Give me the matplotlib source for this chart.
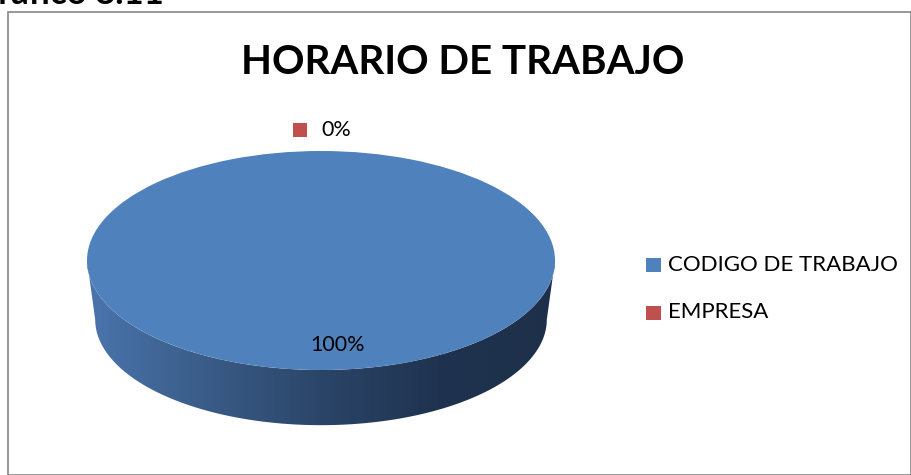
import numpy as np
import matplotlib
matplotlib.use("Agg")
import matplotlib.pyplot as plt
from matplotlib.patches import Rectangle, PathPatch
from matplotlib.path import Path
from matplotlib.colors import LinearSegmentedColormap

# Datos del gráfico
categorias = ["CODIGO DE TRABAJO", "EMPRESA"]
valores = [100, 0]
colores = ["#4F81BD", "#C0504D"]
titulo = "HORARIO DE TRABAJO"
encabezado = "Gráfico 8.11"

W, H = 911, 475
fig = plt.figure(figsize=(W / 100, H / 100), dpi=100)
fig.patch.set_facecolor("white")

# marco del gráfico
fig.patches.append(Rectangle((8 / W, 0), 1 - 8 / W, 1 - 12 / H, transform=fig.transFigure,
                             fill=False, edgecolor="#868686", linewidth=1.2))

# texto cortado arriba a la izquierda
fig.text(-27 / W, 1 - 4 / H, encabezado, fontsize=25, fontweight="bold",
         family="Lato", ha="left", va="baseline")

fig.text(463 / W, 1 - 63 / H, titulo, fontsize=29, fontweight="bold",
         family="Lato", ha="center", va="center")

# geometría del pastel (px)
cx, cy = 321, 260.5
a, b = 234, 109.5
depth = 59 / b
pad = 1.05
bot = -(432 - cy) / b
left = (cx - a * pad) / W
width = 2 * a * pad / W
top_px = cy - b * pad
ax = fig.add_axes([left, 1 - 432 / H, width, (432 - top_px) / H])

wedges, _ = ax.pie(valores, colors=colores, startangle=90, counterclock=False,
                   radius=1, wedgeprops=dict(linewidth=0))
for w in wedges:
    w.set_zorder(3)
ax.set_aspect("auto")
ax.axis("off")

# lado del cilindro con degradado
t = np.linspace(np.pi, 2 * np.pi, 200)
shrink = 0.965
top_edge = np.column_stack([np.cos(t), np.sin(t)])
bot_edge = np.column_stack([shrink * np.cos(t[::-1]), shrink * np.sin(t[::-1]) - depth])
verts = np.vstack([top_edge, bot_edge, top_edge[:1]])
side = Path(verts, closed=True)
patch = PathPatch(side, facecolor="none", edgecolor="none")
ax.add_patch(patch)
cmap = LinearSegmentedColormap.from_list("lado", ["#4A75AD", "#3A5C88", "#2B4568", "#1F3350", "#1E3049"])
grad = np.linspace(0, 1, 256).reshape(1, -1)
im = ax.imshow(grad, cmap=cmap, extent=(-1, 1, -1 - depth, 0), aspect="auto", zorder=2)
im.set_clip_path(patch)
ax.set_xlim(-pad, pad)
ax.set_ylim(bot, pad)

# etiquetas de datos
total = sum(valores)
ang = 90
for v, c in zip(valores, colores):
    theta = np.deg2rad(ang - 360 * v / total / 2)
    ang -= 360 * v / total
    pct = "%d%%" % round(100 * v / total)
    if v > 0:
        ax.text(0.07 + 0.77 * np.cos(theta), 0.77 * np.sin(theta), pct, fontsize=15.5,
                ha="center", va="center", family="Lato", zorder=5)
    else:
        x0, y0 = 1.19 * np.cos(theta), 1.19 * np.sin(theta)
        ax.plot(x0 - 0.09, y0, marker="s", ms=10.5, color=c, mew=0, clip_on=False, zorder=5)
        ax.text(x0 + 0.0, y0, pct, fontsize=15.5, ha="left", va="center",
                family="Lato", zorder=5)

# leyenda
for i, (cat, c) in enumerate(zip(categorias, colores)):
    yy = 1 - (265 + 47.5 * i) / H
    fig.patches.append(Rectangle((646 / W, yy - 7 / H), 15 / W, 14 / H, transform=fig.transFigure,
                                 facecolor=c, edgecolor="none"))
    fig.text(668 / W, yy, cat, fontsize=16, family="Lato", ha="left", va="center")

fig.savefig("out.png", dpi=100)
